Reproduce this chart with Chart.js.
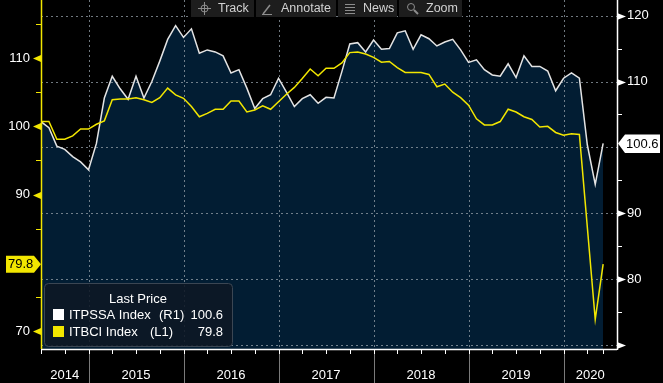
<!DOCTYPE html>
<html><head><meta charset="utf-8">
<script src="https://cdn.jsdelivr.net/npm/chart.js@4/dist/chart.umd.min.js"></script>
<style>html,body{margin:0;padding:0;background:#000;overflow:hidden}#wrap{width:663px;height:383px}</style>
</head><body><div id="wrap"><canvas id="c" width="663" height="383"></canvas></div>
<script>
const months = ['2014-07','2014-08','2014-09','2014-10','2014-11','2014-12',
'2015-01','2015-02','2015-03','2015-04','2015-05','2015-06','2015-07','2015-08','2015-09','2015-10','2015-11','2015-12',
'2016-01','2016-02','2016-03','2016-04','2016-05','2016-06','2016-07','2016-08','2016-09','2016-10','2016-11','2016-12',
'2017-01','2017-02','2017-03','2017-04','2017-05','2017-06','2017-07','2017-08','2017-09','2017-10','2017-11','2017-12',
'2018-01','2018-02','2018-03','2018-04','2018-05','2018-06','2018-07','2018-08','2018-09','2018-10','2018-11','2018-12',
'2019-01','2019-02','2019-03','2019-04','2019-05','2019-06','2019-07','2019-08','2019-09','2019-10','2019-11','2019-12',
'2020-01','2020-02','2020-03','2020-04','2020-05','2020-06'];
// ITPSSA Index (right axis R1)
const itpssa = [103.9,103.0,100.2,99.7,98.6,97.8,96.6,100.6,107.5,110.8,108.9,107.3,110.8,107.5,110.0,113.1,116.4,118.5,116.7,118.0,114.3,114.8,114.5,113.9,111.3,111.8,109.0,105.9,107.4,108.0,110.5,108.4,106.2,107.4,108.0,106.7,107.6,107.5,111.5,115.7,115.9,114.5,116.3,114.9,115.0,117.4,117.7,114.9,117.1,116.5,115.4,116.0,116.4,114.8,112.9,113.3,111.8,111.0,110.8,112.7,110.6,113.9,112.3,112.3,111.6,108.6,110.5,111.3,110.5,100.4,94.4,100.6];
// ITBCI Index (left axis L1)
const itbci = [100.7,100.7,98.1,98.1,98.6,99.6,99.6,100.3,100.8,103.9,104.0,104.0,104.2,103.9,103.5,104.2,105.6,104.6,104.1,102.9,101.4,101.9,102.5,102.5,103.7,103.7,102.1,102.4,103.0,102.5,103.6,104.7,105.7,107.0,108.4,107.4,108.5,108.5,109.3,110.8,110.9,110.6,110.1,109.4,109.5,108.6,107.9,107.9,107.9,107.6,105.8,106.2,105.0,104.2,103.1,101.1,100.2,100.2,100.7,102.5,102.1,101.4,101.0,99.9,100.0,99.1,98.7,98.9,98.8,null,71.7,79.8];
const years = ['2014','2015','2016','2017','2018','2019','2020'];
const leftTicks = [70,75,80,85,90,95,100,105,110,115];
const rightTicks = [70,75,80,85,90,95,100,105,110,115,120];
const lastPrices = {itpssa:'100.6', itbci:'79.8'};
const toolbarItems = ['Track','Annotate','News','Zoom'];

const X_MAX = 72.75;
const yearStarts = years.map(y => months.findIndex(m => m.startsWith(y)));
const yearCenters = years.map((y,i) => {
  const s = Math.max(yearStarts[i],0);
  const e = i < years.length-1 ? yearStarts[i+1] : X_MAX;
  return (s + e) / 2;
});

const AX_FONT = {family:"'Liberation Sans',Arial,sans-serif", size:13};
const TXT_FONT = "13px 'Liberation Sans',Arial,sans-serif";
const YEL = '#f2e600';

function noPad(s){ s.paddingTop=0; s.paddingBottom=0; s.paddingLeft=0; s.paddingRight=0; }

const deco = {
  id:'deco',
  beforeDatasetsDraw(chart){
    const {ctx, chartArea:a, scales:{x, yR}} = chart;
    ctx.save();
    ctx.strokeStyle='rgba(150,160,170,0.75)'; ctx.lineWidth=1; ctx.setLineDash([2,3]);
    rightTicks.filter(v=>v%10===0).forEach(v=>{
      const y=Math.round(yR.getPixelForValue(v))+0.5;
      ctx.beginPath(); ctx.moveTo(a.left,y); ctx.lineTo(a.right,y); ctx.stroke();
    });
    yearStarts.filter(i=>i>0).forEach(i=>{
      const X=Math.round(x.getPixelForValue(i))+0.5;
      ctx.beginPath(); ctx.moveTo(X,a.top); ctx.lineTo(X,a.bottom); ctx.stroke();
    });
    ctx.restore();
  },
  afterDraw(chart){
    const {ctx, chartArea:a, scales:{x, yL, yR}} = chart;
    ctx.save();
    ctx.strokeStyle='#7a7a7a'; ctx.lineWidth=1;
    yearStarts.filter(i=>i>0).forEach(i=>{
      const X=Math.round(x.getPixelForValue(i))+0.5;
      ctx.beginPath(); ctx.moveTo(X,a.bottom); ctx.lineTo(X,chart.height); ctx.stroke();
    });
    ctx.strokeStyle='#fff';
    const qt=[]; for(let i=0;i<months.length-2;i+=3) qt.push(i); qt.push(months.length-1);
    qt.forEach(i=>{
      const X=Math.round(x.getPixelForValue(i))+0.5;
      ctx.beginPath(); ctx.moveTo(X,a.bottom); ctx.lineTo(X,a.bottom+5); ctx.stroke();
    });
    ctx.lineWidth=1.5;
    ctx.strokeStyle='#fff';
    ctx.beginPath(); ctx.moveTo(a.left,a.bottom+0.5); ctx.lineTo(a.right,a.bottom+0.5); ctx.stroke();
    ctx.beginPath(); ctx.moveTo(a.right+0.5,0); ctx.lineTo(a.right+0.5,a.bottom+1); ctx.stroke();
    ctx.strokeStyle=YEL;
    ctx.beginPath(); ctx.moveTo(a.left+0.5,0); ctx.lineTo(a.left+0.5,a.bottom); ctx.stroke();
    ctx.lineWidth=1;
    leftTicks.forEach(v=>{
      const y=Math.round(yL.getPixelForValue(v))+0.5;
      if(v%10!==0){ ctx.strokeStyle=YEL; ctx.beginPath(); ctx.moveTo(a.left-5,y); ctx.lineTo(a.left,y); ctx.stroke(); }
      else if(v!==80){ ctx.fillStyle=YEL; ctx.beginPath(); ctx.moveTo(a.left,y-3.5); ctx.lineTo(a.left,y+3.5); ctx.lineTo(a.left-8,y); ctx.closePath(); ctx.fill(); }
    });
    rightTicks.forEach(v=>{
      const y=Math.round(yR.getPixelForValue(v))+0.5;
      if(v%10!==0){ ctx.strokeStyle='#fff'; ctx.beginPath(); ctx.moveTo(a.right,y); ctx.lineTo(a.right+5,y); ctx.stroke(); }
      else if(v!==100){ ctx.fillStyle='#fff'; ctx.beginPath(); ctx.moveTo(a.right,y-3.5); ctx.lineTo(a.right,y+3.5); ctx.lineTo(a.right+9,y); ctx.closePath(); ctx.fill(); }
    });
    ctx.font = `${AX_FONT.size}px ${AX_FONT.family}`;
    ctx.textBaseline='middle';
    let yb = yL.getPixelForValue(parseFloat(lastPrices.itbci));
    ctx.fillStyle=YEL; ctx.beginPath();
    ctx.moveTo(6,yb-8.5); ctx.lineTo(34,yb-8.5); ctx.lineTo(a.left,yb); ctx.lineTo(34,yb+8.5); ctx.lineTo(6,yb+8.5); ctx.closePath(); ctx.fill();
    ctx.fillStyle='#000'; ctx.textAlign='left'; ctx.fillText(lastPrices.itbci,8,yb+0.5);
    yb = yR.getPixelForValue(parseFloat(lastPrices.itpssa));
    ctx.fillStyle='#fff'; ctx.beginPath();
    ctx.moveTo(a.right+1,yb); ctx.lineTo(a.right+8,yb-9); ctx.lineTo(660,yb-9); ctx.lineTo(660,yb+9.5); ctx.lineTo(a.right+8,yb+9.5); ctx.closePath(); ctx.fill();
    ctx.fillStyle='#000'; ctx.fillText(lastPrices.itpssa,626,yb+0.5);
    const lx=44, ly=283, lw=188, lh=63;
    ctx.fillStyle='rgba(14,24,36,0.88)'; ctx.strokeStyle='#3b4653'; ctx.lineWidth=1;
    ctx.beginPath(); ctx.roundRect(lx+0.5,ly+0.5,lw,lh,4); ctx.fill(); ctx.stroke();
    ctx.font=TXT_FONT; ctx.fillStyle='#fff'; ctx.textAlign='center';
    ctx.fillText('Last Price',138,299);
    ctx.textAlign='left';
    ctx.fillStyle='#fff'; ctx.fillRect(53,309,11,11);
    ctx.fillStyle=YEL; ctx.fillRect(53,326,11,11);
    ctx.fillStyle='#fff';
    ctx.fillText('ITPSSA Index',69,315); ctx.fillText('(R1)',159,315);
    ctx.fillText('ITBCI Index',69,332); ctx.fillText('(L1)',150,332);
    ctx.textAlign='right';
    ctx.fillText(lastPrices.itpssa,223,315); ctx.fillText(lastPrices.itbci,223,332);
    const btn=[[191,254],[256,336],[338,397],[399,462]];
    const tx=[218,281,363,426];
    ctx.fillStyle='#1d1d1d';
    btn.forEach(b=>ctx.fillRect(b[0],0,b[1]-b[0],17));
    ctx.fillStyle='#d2d2d2'; ctx.textAlign='left'; ctx.font="12.5px 'Liberation Sans',Arial,sans-serif";
    toolbarItems.forEach((t,i)=>ctx.fillText(t,tx[i],9));
    ctx.strokeStyle='#8d8d8d'; ctx.lineWidth=1;
    ctx.beginPath(); ctx.arc(204.5,8.5,3.5,0,Math.PI*2); ctx.stroke();
    ctx.beginPath(); ctx.moveTo(198,8.5); ctx.lineTo(211,8.5); ctx.moveTo(204.5,2); ctx.lineTo(204.5,15); ctx.stroke();
    ctx.lineWidth=1.5; ctx.beginPath(); ctx.moveTo(263,14); ctx.lineTo(270,5); ctx.stroke();
    ctx.lineWidth=1; ctx.beginPath(); ctx.moveTo(262,14.5); ctx.lineTo(272,14.5); ctx.stroke();
    [4.5,7.5,10.5,13.5].forEach(y=>{ctx.beginPath(); ctx.moveTo(345,y); ctx.lineTo(355,y); ctx.stroke();});
    ctx.beginPath(); ctx.arc(411,7,3.5,0,Math.PI*2); ctx.stroke();
    ctx.lineWidth=2; ctx.beginPath(); ctx.moveTo(414,10); ctx.lineTo(418,14); ctx.stroke();
    ctx.restore();
  }
};

new Chart(document.getElementById('c'), {
  type:'line',
  data:{datasets:[
    {label:'ITBCI Index (L1)', data:itbci.map((v,i)=>({x:i,y:v})), yAxisID:'yL', xAxisID:'x',
     borderColor:YEL, borderWidth:1.5, pointRadius:0, fill:false, spanGaps:true, tension:0, order:1},
    {label:'ITPSSA Index (R1)', data:itpssa.map((v,i)=>({x:i,y:v})), yAxisID:'yR', xAxisID:'x',
     borderColor:'#e4e4e4', borderWidth:1.5, pointRadius:0, fill:'start', backgroundColor:'#021d33', tension:0, order:2}
  ]},
  options:{
    responsive:false, animation:false, devicePixelRatio:1,
    layout:{padding:0},
    plugins:{legend:{display:false}, tooltip:{enabled:false}, filler:{drawTime:'beforeDatasetsDraw'}},
    scales:{
      x:{type:'linear', min:0, max:X_MAX, position:'bottom',
        grid:{display:false, drawTicks:false}, border:{display:false},
        afterBuildTicks:s=>{ s.ticks = yearCenters.map(v=>({value:v})); },
        afterFit:s=>{ s.height=34; noPad(s); },
        ticks:{color:'#fff', font:AX_FONT, padding:19, autoSkip:false, maxRotation:0, minRotation:0,
          callback:(v,i)=>years[i]}},
      yL:{type:'linear', position:'left', min:67.37, max:118.51,
        grid:{display:false, drawTicks:false}, border:{display:false},
        afterBuildTicks:s=>{ s.ticks = leftTicks.map(v=>({value:v})); },
        afterFit:s=>{ s.width=41; noPad(s); },
        ticks:{color:'#fff', font:AX_FONT, padding:11, autoSkip:false,
          callback:v=> (v%10===0 && v!==80) ? String(v) : ''}},
      yR:{type:'linear', position:'right', min:69.39, max:122.38,
        grid:{display:false, drawTicks:false}, border:{display:false},
        afterBuildTicks:s=>{ s.ticks = rightTicks.map(v=>({value:v})); },
        afterFit:s=>{ s.width=46; noPad(s); },
        ticks:{color:'#fff', font:AX_FONT, padding:10, autoSkip:false,
          callback:v=> (v%10===0 && v!==100 && v!==70) ? String(v) : ''}}
    }
  },
  plugins:[deco]
});
</script>
</body></html>
